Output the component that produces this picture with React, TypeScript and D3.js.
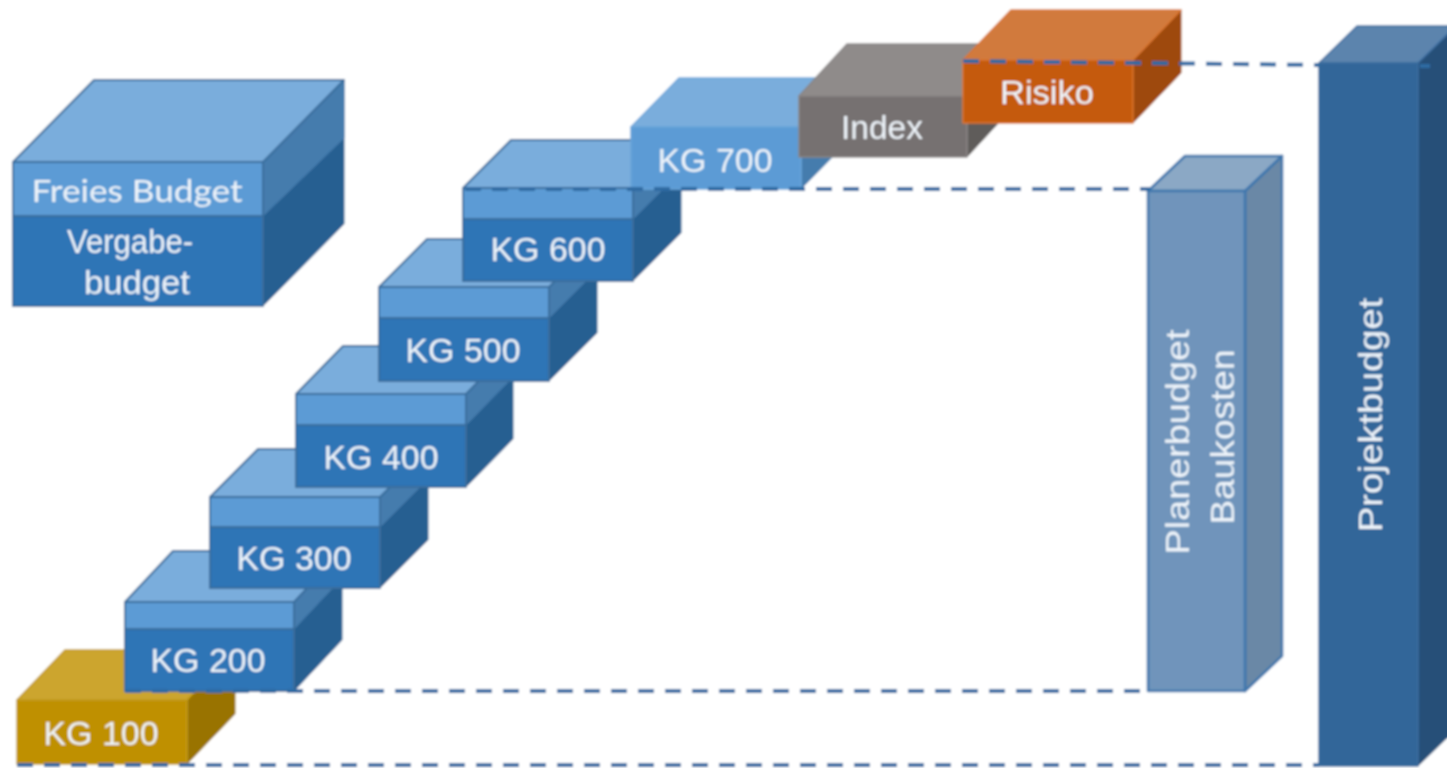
import React, { useEffect, useRef } from "react";
import * as d3 from "d3";

const W = 1447;
const H = 768;

// Values: horizontal extent and budget level of each block
const labels = ["KG 100", "KG 200", "KG 300", "KG 400", "KG 500", "KG 600", "KG 700", "Index", "Risiko"];
const startPos = [17, 125, 210, 296, 379, 463, 631, 799, 963];
const endPos = [187, 294, 380, 466, 549, 633, 801, 967, 1133];
const baseLevel = [2, 75, 178, 279, 385, 485, 577, 609, 643];
const splitLevel = [NaN, 137, 239, 341, 448, 547, NaN, NaN, NaN];
const topLevel = [66, 164, 269, 372, 479, 578, 639, 670, 706];
const depthX = [48, 48, 48, 47, 48, 48, 48, 48, 48];
const depthY = [50, 51, 48, 48, 48, 48, 49, 52, 50];
const palette = ["gold", "blue", "blue", "blue", "blue", "blue", "light", "grey", "orange"];

const textX = [101, 208, 294, 381, 463, 548, 715, 882, 1047];
const textY = [733, 660, 558, 457, 350, 249, 160, 127, 92];
const textLen = [115, 115, 115, 115, 115, 115, 115, 82, 94];

const dashedLevels = [
  { from: 17, to: 1319, a: 1, b: 1 },
  { from: 125, to: 1148, a: 75, b: 75 },
  { from: 465, to: 1150, a: 577, b: 577 },
  { from: 963, to: 1319, a: 705, b: 701 },
  { from: 1420, to: 1430, a: 700, b: 700 },
];

const C: Record<string, any> = {
  gold: { front: "#bf9000", top: "#cca52f", side: "#997300", line: "#c29a1c", w: 1.6 },
  light: { front: "#5b9bd5", top: "#7aaddc", side: "#457cad", line: "#6aa5da", w: 1.6 },
  grey: { front: "#767171", top: "#8f8b8a", side: "#5f5b5a", line: "#8a8686", w: 1.6 },
  orange: { front: "#c55a11", top: "#d17a3c", side: "#9e480e", line: "#d9752f", w: 1.6 },
  blue: { front: "#2e75b6", upper: "#5b9bd5", top: "#7aaddc", side: "#255e91", sideUp: "#457cad", line: "#3a6d9c", w: 2 },
  planner: { front: "#7094bb", top: "#8ba8c5", side: "#6a88a6", line: "#3f77ad", w: 2.6 },
  project: { front: "#336699", top: "#5c84ad", side: "#285078", line: "#3a6c9f", w: 1.6 },
};

const x = d3.scaleLinear().domain([0, W]).range([0, W]);
const y = d3.scaleLinear().domain([0, 766]).range([766, 0]);
const poly = d3.line<[number, number]>().curve(d3.curveLinearClosed);

type Box = {
  x0: number; x1: number; base: number; split: number; top: number; dx: number; dy: number; kind: string; splitRise?: number;
};

function drawBox(g: any, b: Box) {
  const c = C[b.kind];
  const xa = x(b.x0), xb = x(b.x1), yb = y(b.base), yt = y(b.top);
  const ys = isNaN(b.split) ? NaN : y(b.split);
  const rise = b.splitRise ?? b.dy;
  const add = (pts: [number, number][], fill: string, stroke = c.line, sw = c.w) =>
    g.append("path").attr("d", poly(pts)).attr("fill", fill).attr("stroke", stroke).attr("stroke-width", sw).attr("stroke-linejoin", "round");
  add([[xb, yt], [xb + b.dx, yt - b.dy], [xb + b.dx, yb - b.dy], [xb, yb]], c.side, b.kind === "planner" ? c.line : c.side, b.kind === "planner" ? c.w : 1);
  if (!isNaN(ys)) {
    add([[xb, yt], [xb + b.dx, yt - b.dy], [xb + b.dx, ys - rise], [xb, ys]], c.sideUp, c.sideUp, 1);
  }
  add([[xa, yt], [xa + b.dx, yt - b.dy], [xb + b.dx, yt - b.dy], [xb, yt]], c.top);
  add([[xa, yt], [xb, yt], [xb, yb], [xa, yb]], isNaN(ys) ? c.front : c.upper);
  if (!isNaN(ys)) add([[xa, ys], [xb, ys], [xb, yb], [xa, yb]], c.front);
}

function put(g: any, str: string, cx: number, cy: number, len: number, size: number, family = "Liberation Sans", rot = 0) {
  return g.append("text")
    .attr("text-anchor", "middle")
    .attr("dominant-baseline", "central")
    .attr("font-family", family)
    .attr("font-size", size)
    .attr("fill", "#eef4fa")
    .attr("textLength", len)
    .attr("lengthAdjust", "spacingAndGlyphs")
    .attr("transform", `translate(${cx},${cy}) rotate(${rot})`)
    .text(str);
}

export default function App() {
  const ref = useRef<SVGSVGElement>(null);
  useEffect(() => {
    const svg = d3.select(ref.current);
    svg.selectAll("*").remove();
    const defs = svg.append("defs");
    defs.append("filter").attr("id", "soft").attr("x", "-2%").attr("y", "-2%").attr("width", "104%").attr("height", "104%")
      .append("feGaussianBlur").attr("stdDeviation", 0.8);
    const root = svg.append("g").attr("filter", "url(#soft)");
    root.append("rect").attr("width", W).attr("height", H).attr("fill", "#ffffff");

    // Legend cube
    drawBox(root, { x0: 13, x1: 263, base: 460, split: 550, top: 604, dx: 81, dy: 82, kind: "blue", splitRise: 78 });
    put(root, "Freies Budget", 137, 190, 211, 30, "Lato");
    put(root, "Vergabe-", 130, 241, 126, 33);
    put(root, "budget", 137, 282, 106, 33);

    // Budget columns
    drawBox(root, { x0: 1148, x1: 1245, base: 75, split: NaN, top: 575, dx: 37, dy: 35, kind: "planner" });
    drawBox(root, { x0: 1319, x1: 1418, base: 0, split: NaN, top: 703, dx: 38, dy: 37, kind: "project" });

    // Cost-group staircase
    labels.forEach((_, i) => {
      drawBox(root, {
        x0: startPos[i], x1: endPos[i], base: baseLevel[i], split: splitLevel[i], top: topLevel[i],
        dx: depthX[i], dy: depthY[i], kind: palette[i],
      });
    });

    // Dashed guides
    dashedLevels.forEach((d) => {
      root.append("line")
        .attr("x1", x(d.from)).attr("x2", x(d.to)).attr("y1", y(d.a)).attr("y2", y(d.b))
        .attr("stroke", "#2f6aa3").attr("stroke-width", 4).attr("stroke-dasharray", "16 11");
    });

    // Labels
    labels.forEach((l, i) => put(root, l, textX[i], textY[i], textLen[i], 33));

    put(root, "Projektbudget", 1370, 415, 234, 34, "Liberation Sans", -90);
    put(root, "Planerbudget", 1177, 442, 225, 34, "Liberation Sans", -90);
    put(root, "Baukosten", 1222, 437, 175, 34, "Liberation Sans", -90);
  }, []);
  return (
    <svg ref={ref} width={W} height={H} viewBox={`0 0 ${W} ${H}`}
      style={{ position: "absolute", left: 0, top: 0, display: "block" }} />
  );
}
